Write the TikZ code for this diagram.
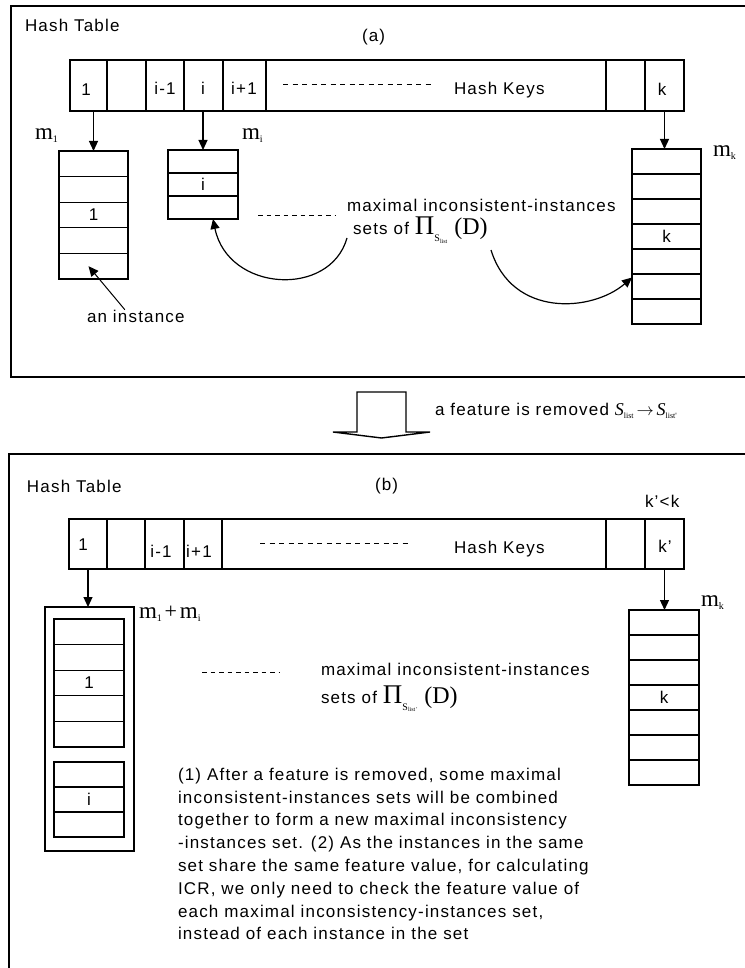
\documentclass[tikz,border=0pt]{standalone}
\usepackage{fontspec}
\setmainfont{Liberation Sans}[LetterSpace=7]
\newfontfamily\timesfont{Liberation Serif}
\usetikzlibrary{arrows.meta, positioning}

% serif labels
\newcommand{\mlab}[1]{{\timesfont\fontsize{23}{23}\selectfont m}\raisebox{-3pt}{\timesfont\fontsize{10}{10}\selectfont #1}}
\newcommand{\projset}[1]{{\timesfont\fontsize{27}{27}\selectfont Π}\raisebox{-7pt}{\timesfont\fontsize{10}{10}\selectfont S\raisebox{-1.5pt}{\fontsize{6}{6}\selectfont #1}}\hspace{7pt}{\timesfont\fontsize{24}{24}\selectfont (D)}}
\newcommand{\slist}[1]{{\timesfont\itshape\fontsize{18}{18}\selectfont S}\raisebox{-3pt}{\timesfont\fontsize{8}{8}\selectfont #1}}

\begin{document}
\begin{tikzpicture}[
    x=1pt, y=-1pt,
    every node/.style = {inner sep=0pt, outer sep=0pt,
                         font=\fontsize{17}{22.8}\selectfont},
    keycell/.style = {draw, line width=1.2pt, minimum height=51pt},
    slot/.style    = {draw, line width=1.2pt, minimum width=69pt,
                      minimum height=#1},
    slot/.default  = 25.6pt,
    arrow/.style   = {-{Triangle[length=10pt, width=9pt]}, line width=1.2pt},
    dashrow/.style = {line width=1pt, dash pattern=on 5pt off 4.5pt},
    panel/.style   = {line width=1.2pt}
  ]
  \useasboundingbox (0,0) rectangle (744,968);

  % ---------------- (a) ----------------
  \draw[panel] (11,6) rectangle (752,377);
  \node[anchor=base west] (titlea) at (25,32) {Hash Table};
  \node[anchor=base west] (capa) at (362,42) {(a)};

  % hash keys
  \node[keycell, minimum width=37pt] (k1a) at (88.5,85.5) {};
  \node[keycell, minimum width=39pt, right=0pt of k1a] (k2a) {};
  \node[keycell, minimum width=38pt, right=0pt of k2a] (kim1a) {};
  \node[keycell, minimum width=39pt, right=0pt of kim1a] (kia) {};
  \node[keycell, minimum width=43pt, right=0pt of kia] (kip1a) {};
  \node[keycell, minimum width=340pt, right=0pt of kip1a] (kgapa) {};
  \node[keycell, minimum width=39pt, right=0pt of kgapa] (kkm1a) {};
  \node[keycell, minimum width=39pt, right=0pt of kkm1a] (kka) {};
  \node[anchor=base] at (86,96) {1};
  \node[anchor=base] at (165,95) {i-1};
  \node[anchor=base] at (203,95) {i};
  \node[anchor=base] at (244,95) {i+1};
  \node[anchor=base] at (662,96) {k};
  \draw[dashrow] (283,85) -- (434,85);
  \node[anchor=base west] (keysa) at (454,95) {Hash Keys};

  % instance sets
  \foreach \r in {1,...,5}
    \node[slot] (m1a-\r) at (93.5,{151+25.6*(\r-0.5)}) {};
  \node at (m1a-3) {1};
  \foreach \r in {1,...,3}
    \node[slot=23pt, minimum width=70pt] (mia-\r) at (203,{150+23*(\r-0.5)}) {};
  \node at (mia-2) {i};
  \foreach \r in {1,...,7}
    \node[slot=25pt] (mka-\r) at (666.5,{149+25*(\r-0.5)}) {};
  \node at (mka-4) {k};

  \node[anchor=base west] (lm1a) at (35,140) {\mlab{1}};
  \node[anchor=base west] (lmia) at (242,140) {\mlab{i}};
  \node[anchor=base west] (lmka) at (713,157) {\mlab{k}};

  \draw[arrow] (m1a-1.north |- k1a.south) -- (m1a-1.north);
  \draw[arrow] (mia-1.north |- kia.south) -- (mia-1.north);
  \draw[arrow] (kka.south) -- (kka.south |- mka-1.north);

  % an instance
  \node[anchor=base west] (insta) at (87,322) {an instance};
  \draw[arrow, line width=1pt] ([xshift=-11pt]insta.north) -- ([xshift=-5pt]m1a-5.center);

  % maximal sets
  \draw[dashrow, dash pattern=on 4.5pt off 4pt] (258,216) -- (335,216);
  \node[anchor=base west] (seta1) at (347,212) {maximal inconsistent-instances};
  \node[anchor=base west] (seta2) at (353,235) {sets of \projset{list}};
  \coordinate (fromseta) at (347,238);
  \coordinate (fromsetb) at (491,250);
  \draw[arrow] (fromseta) .. controls (330,298) and (228,292) .. ([xshift=10pt]mia-3.south);
  \draw[arrow] (fromsetb) .. controls (512,318) and (592,312) .. ([yshift=9pt]mka-6.west);

  % removal step
  \draw[line width=1.4pt] (357,392) -- (406,392) -- (406,432) -- (430,432)
    -- (381.5,438) -- (333,432) -- (357,432) -- cycle;
  \node[anchor=base west] (step) at (435,415)
    {a feature is removed \slist{list}\,{\fontsize{16}{16}\selectfont$\rightarrow$}\,\slist{list'}};

  % ---------------- (b) ----------------
  \draw[panel] (9,454) rectangle (752,975);
  \node[anchor=base west] (titleb) at (27,492) {Hash Table};
  \node[anchor=base west] (capb) at (375,490) {(b)};
  \node[anchor=base west] (kless) at (645,507) {k'<k};

  % hash keys
  \node[keycell, minimum width=38pt, minimum height=50pt] (k1b) at (88,544) {};
  \node[keycell, minimum width=38pt, minimum height=50pt, right=0pt of k1b] (k2b) {};
  \node[keycell, minimum width=39pt, minimum height=50pt, right=0pt of k2b] (kim1b) {};
  \node[keycell, minimum width=38pt, minimum height=50pt, right=0pt of kim1b] (kip1b) {};
  \node[keycell, minimum width=384pt, minimum height=50pt, right=0pt of kip1b] (kgapb) {};
  \node[keycell, minimum width=39pt, minimum height=50pt, right=0pt of kgapb] (kkm1b) {};
  \node[keycell, minimum width=39pt, minimum height=50pt, right=0pt of kkm1b] (kkb) {};
  \node[anchor=base] at (83,550) {1};
  \node[anchor=base] at (161,557) {i-1};
  \node[anchor=base] at (199,557) {i+1};
  \node[anchor=base] at (665,552) {k'};
  \draw[dashrow] (260,543) -- (412,543);
  \node[anchor=base west] (keysb) at (454,553) {Hash Keys};

  % merged set
  \node[draw, panel, minimum width=89pt, minimum height=244pt] (mergeb) at (89.5,729) {};
  \foreach \r in {1,...,5}
    \node[slot, minimum width=70pt] (m1b-\r) at (89,{619+25.6*(\r-0.5)}) {};
  \node at (m1b-3) {1};
  \foreach \r in {1,...,3}
    \node[slot=25pt, minimum width=70pt] (mib-\r) at (89,{762+25*(\r-0.5)}) {};
  \node at (mib-2) {i};
  \foreach \r in {1,...,7}
    \node[slot=25pt, minimum width=70pt] (mkb-\r) at (664,{610+25*(\r-0.5)}) {};
  \node at (mkb-4) {k};

  \node[anchor=base west] (lmerge) at (139,618)
    {\mlab{1}\,{\timesfont\fontsize{22}{22}\selectfont +}\,\mlab{i}};
  \node[anchor=base west] (lmkb) at (701,606) {\mlab{k}};

  \draw[arrow] (k1b.south) -- (k1b.south |- mergeb.north);
  \draw[arrow] (kkb.south) -- (kkb.south |- mkb-1.north);

  \draw[dashrow, dash pattern=on 4.5pt off 4pt] (202,672) -- (280,672);
  \node[anchor=base west] (setb1) at (321,675) {maximal inconsistent-instances};
  \node[anchor=base west] (setb2) at (321,703) {sets of \projset{list\,'}};

  % note
  \node[anchor=north west, align=left] (note) at (178,768)
    {(1) After a feature is removed, some maximal\\
     inconsistent-instances sets will be combined\\
     together to form a new maximal inconsistency\\
     -instances set. (2) As the instances in the same\\
     set share the same feature value, for calculating\\
     ICR, we only need to check the feature value of\\
     each maximal inconsistency-instances set,\\
     instead of each instance in the set};
\end{tikzpicture}
\end{document}
